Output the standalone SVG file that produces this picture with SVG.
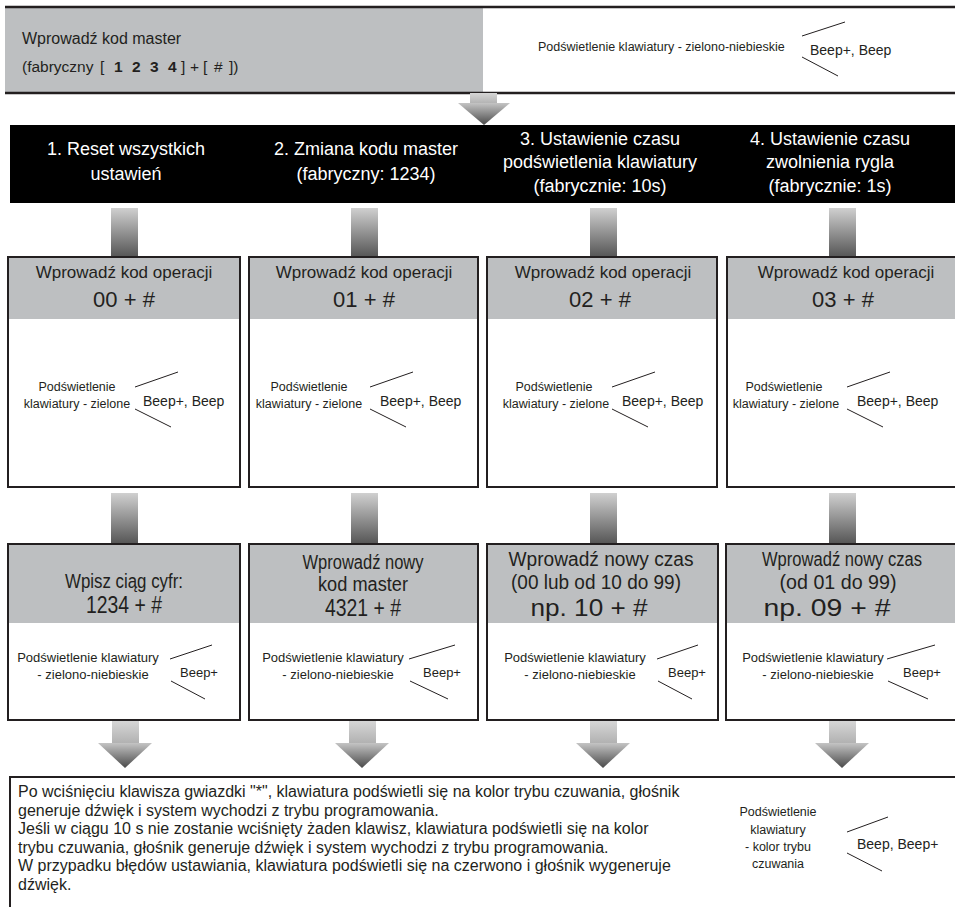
<svg xmlns="http://www.w3.org/2000/svg" width="955" height="907" viewBox="0 0 955 907">
<defs>
<linearGradient id="shaftG" x1="0" y1="0" x2="0" y2="1">
<stop offset="0" stop-color="#d0d0d0"/><stop offset="1" stop-color="#555555"/>
</linearGradient>
<linearGradient id="headG" x1="0" y1="0" x2="0" y2="1">
<stop offset="0" stop-color="#c4c4c4"/><stop offset="1" stop-color="#4a4a4a"/>
</linearGradient>
<linearGradient id="stubG" x1="0" y1="0" x2="0" y2="1">
<stop offset="0" stop-color="#d6d6d6"/><stop offset="1" stop-color="#b0b0b0"/>
</linearGradient>
<style>
text{font-family:"Liberation Sans",Arial,Helvetica,sans-serif;fill:#231f20}
.w{fill:#ffffff;font-size:18px}
.hd{font-size:17px}
.code{font-size:22px}
.lbl{font-size:12.5px}
.lbl3{font-size:13px}
.beep{font-size:14px}
.h3{font-size:20px}
.h3b{font-size:24px}
.para{font-size:16px}
.box{fill:#ffffff;stroke:#231f20;stroke-width:2}
.gray{fill:#bdbfc1}
.ln{stroke:#231f20;stroke-width:1;fill:none}
.bar{stroke:#231f20;stroke-width:2.5}
</style>
</defs>

<g id="top-box">
<rect x="5" y="7" width="478" height="86" class="gray"/>
<line x1="5" y1="7" x2="955" y2="7" class="bar"/>
<line x1="5" y1="93" x2="955" y2="93" class="bar"/>
<text x="22" y="44" style="font-size:16px">Wprowadź kod master</text>
<text y="72" style="font-size:15.5px"><tspan x="22">(fabryczny</tspan><tspan x="100">[</tspan><tspan x="114" font-weight="bold">1</tspan><tspan x="132" font-weight="bold">2</tspan><tspan x="150" font-weight="bold">3</tspan><tspan x="168" font-weight="bold">4</tspan><tspan x="181">]</tspan><tspan x="190">+</tspan><tspan x="203">[</tspan><tspan x="214">#</tspan><tspan x="229">])</tspan></text>
<text x="538" y="51" style="font-size:12.5px">Podświetlenie klawiatury - zielono-niebieskie</text>
<line x1="802" y1="36" x2="845" y2="22" class="ln"/>
<line x1="802" y1="57" x2="838" y2="76" class="ln"/>
<text x="810" y="55" class="beep">Beep+, Beep</text>
</g>

<g id="menu-band">
<rect x="10" y="125" width="945" height="78" fill="#000000"/>
<text class="w" text-anchor="middle"><tspan x="126" y="155">1. Reset wszystkich</tspan><tspan x="126" y="180">ustawień</tspan></text>
<text class="w" text-anchor="middle"><tspan x="366" y="155">2. Zmiana kodu master</tspan><tspan x="366" y="180">(fabryczny: 1234)</tspan></text>
<text class="w" text-anchor="middle"><tspan x="600" y="145">3. Ustawienie czasu</tspan><tspan x="600" y="168">podświetlenia klawiatury</tspan><tspan x="600" y="192">(fabrycznie: 10s)</tspan></text>
<text class="w" text-anchor="middle"><tspan x="830" y="145">4. Ustawienie czasu</tspan><tspan x="830" y="168">zwolnienia rygla</tspan><tspan x="830" y="192">(fabrycznie: 1s)</tspan></text>
</g>

<g id="connectors">
<rect x="470" y="93" width="27" height="11" fill="url(#stubG)"/>
<polygon points="458,103 510,103 484,125" fill="url(#headG)"/>
<rect x="111" y="208" width="27" height="49" fill="url(#shaftG)"/>
<rect x="351" y="208" width="27" height="49" fill="url(#shaftG)"/>
<rect x="590" y="208" width="27" height="49" fill="url(#shaftG)"/>
<rect x="829" y="208" width="27" height="49" fill="url(#shaftG)"/>
<rect x="111" y="493" width="27" height="51" fill="url(#shaftG)"/>
<rect x="351" y="493" width="27" height="51" fill="url(#shaftG)"/>
<rect x="590" y="493" width="27" height="51" fill="url(#shaftG)"/>
<rect x="829" y="493" width="27" height="51" fill="url(#shaftG)"/>
<rect x="112" y="721" width="27" height="23" fill="url(#stubG)"/>
<polygon points="98,743 152,743 125,768" fill="url(#headG)"/>
<rect x="349" y="721" width="27" height="23" fill="url(#stubG)"/>
<polygon points="335,743 389,743 362,768" fill="url(#headG)"/>
<rect x="590" y="721" width="27" height="23" fill="url(#stubG)"/>
<polygon points="576,743 630,743 603,768" fill="url(#headG)"/>
<rect x="829" y="721" width="27" height="23" fill="url(#stubG)"/>
<polygon points="815,743 869,743 842,768" fill="url(#headG)"/>
</g>

<g id="op-00">
<rect x="8" y="257" width="232" height="230" class="box"/>
<rect x="9" y="258" width="230" height="61" class="gray"/>
<text x="124" y="278" class="hd" text-anchor="middle">Wprowadź kod operacji</text>
<text x="124" y="307" class="code" text-anchor="middle">00 + #</text>
<text class="lbl" text-anchor="middle"><tspan x="77" y="391">Podświetlenie</tspan><tspan x="77" y="408">klawiatury - zielone</tspan></text>
<line x1="135" y1="387" x2="178" y2="372" class="ln"/>
<line x1="135" y1="409" x2="171" y2="427" class="ln"/>
<text x="143" y="406" class="beep">Beep+, Beep</text>
</g>

<g id="op-01">
<rect x="249" y="257" width="229" height="230" class="box"/>
<rect x="250" y="258" width="227" height="61" class="gray"/>
<text x="364" y="278" class="hd" text-anchor="middle">Wprowadź kod operacji</text>
<text x="364" y="307" class="code" text-anchor="middle">01 + #</text>
<text class="lbl" text-anchor="middle"><tspan x="309" y="391">Podświetlenie</tspan><tspan x="309" y="408">klawiatury - zielone</tspan></text>
<line x1="370" y1="387" x2="413" y2="372" class="ln"/>
<line x1="370" y1="409" x2="406" y2="427" class="ln"/>
<text x="380" y="406" class="beep">Beep+, Beep</text>
</g>

<g id="op-02">
<rect x="487" y="257" width="230" height="230" class="box"/>
<rect x="488" y="258" width="228" height="61" class="gray"/>
<text x="603" y="278" class="hd" text-anchor="middle">Wprowadź kod operacji</text>
<text x="600" y="307" class="code" text-anchor="middle">02 + #</text>
<text class="lbl" text-anchor="middle"><tspan x="554" y="391">Podświetlenie</tspan><tspan x="556" y="408">klawiatury - zielone</tspan></text>
<line x1="612" y1="387" x2="655" y2="372" class="ln"/>
<line x1="612" y1="409" x2="648" y2="427" class="ln"/>
<text x="622" y="406" class="beep">Beep+, Beep</text>
</g>

<g id="op-03">
<rect x="727" y="257" width="232" height="230" class="box"/>
<rect x="728" y="258" width="230" height="61" class="gray"/>
<text x="846" y="278" class="hd" text-anchor="middle">Wprowadź kod operacji</text>
<text x="843" y="307" class="code" text-anchor="middle">03 + #</text>
<text class="lbl" text-anchor="middle"><tspan x="784" y="391">Podświetlenie</tspan><tspan x="786" y="408">klawiatury - zielone</tspan></text>
<line x1="847" y1="387" x2="890" y2="372" class="ln"/>
<line x1="847" y1="409" x2="883" y2="427" class="ln"/>
<text x="857" y="406" class="beep">Beep+, Beep</text>
</g>

<g id="step-reset">
<rect x="8" y="544" width="232" height="176" class="box"/>
<rect x="9" y="545" width="230" height="78" class="gray"/>
<text x="124" y="588" class="h3" text-anchor="middle" textLength="118" lengthAdjust="spacingAndGlyphs">Wpisz ciąg cyfr:</text>
<text x="124" y="613" class="h3b" text-anchor="middle" textLength="76" lengthAdjust="spacingAndGlyphs">1234 + #</text>
<text class="lbl3" text-anchor="middle"><tspan x="88" y="662">Podświetlenie klawiatury</tspan><tspan x="93" y="679">- zielono-niebieskie</tspan></text>
<line x1="170" y1="659" x2="212" y2="645" class="ln"/>
<line x1="171" y1="681" x2="205" y2="699" class="ln"/>
<text x="180" y="677" class="lbl3">Beep+</text>
</g>

<g id="step-master">
<rect x="249" y="544" width="229" height="176" class="box"/>
<rect x="250" y="545" width="227" height="78" class="gray"/>
<text x="363" y="569" class="h3" text-anchor="middle" textLength="121" lengthAdjust="spacingAndGlyphs">Wprowadź nowy</text>
<text x="363" y="591" class="h3" text-anchor="middle" textLength="90" lengthAdjust="spacingAndGlyphs">kod master</text>
<text x="363" y="616" class="h3b" text-anchor="middle" textLength="76" lengthAdjust="spacingAndGlyphs">4321 + #</text>
<text class="lbl3" text-anchor="middle"><tspan x="333" y="662">Podświetlenie klawiatury</tspan><tspan x="338" y="679">- zielono-niebieskie</tspan></text>
<line x1="409" y1="659" x2="455" y2="645" class="ln"/>
<line x1="410" y1="681" x2="448" y2="699" class="ln"/>
<text x="423" y="677" class="lbl3">Beep+</text>
</g>

<g id="step-backlight">
<rect x="487" y="544" width="231" height="176" class="box"/>
<rect x="488" y="545" width="229" height="78" class="gray"/>
<text x="601" y="566" class="h3" text-anchor="middle" textLength="185" lengthAdjust="spacingAndGlyphs">Wprowadź nowy czas</text>
<text x="596" y="589" class="h3" text-anchor="middle" textLength="170" lengthAdjust="spacingAndGlyphs">(00 lub od 10 do 99)</text>
<text x="589" y="616" class="h3b" text-anchor="middle" textLength="117" lengthAdjust="spacingAndGlyphs">np. 10 + #</text>
<text class="lbl3" text-anchor="middle"><tspan x="575" y="662">Podświetlenie klawiatury</tspan><tspan x="580" y="679">- zielono-niebieskie</tspan></text>
<line x1="657" y1="659" x2="698" y2="645" class="ln"/>
<line x1="658" y1="681" x2="692" y2="699" class="ln"/>
<text x="668" y="677" class="lbl3">Beep+</text>
</g>

<g id="step-lock">
<rect x="726" y="544" width="233" height="176" class="box"/>
<rect x="727" y="545" width="231" height="78" class="gray"/>
<text x="842" y="566" class="h3" text-anchor="middle" textLength="160" lengthAdjust="spacingAndGlyphs">Wprowadź nowy czas</text>
<text x="838" y="589" class="h3" text-anchor="middle" textLength="117" lengthAdjust="spacingAndGlyphs">(od 01 do 99)</text>
<text x="827" y="616" class="h3b" text-anchor="middle" textLength="127" lengthAdjust="spacingAndGlyphs">np. 09 + #</text>
<text class="lbl3" text-anchor="middle"><tspan x="813" y="662">Podświetlenie klawiatury</tspan><tspan x="818" y="679">- zielono-niebieskie</tspan></text>
<line x1="887" y1="659" x2="935" y2="645" class="ln"/>
<line x1="888" y1="681" x2="928" y2="699" class="ln"/>
<text x="903" y="677" class="lbl3">Beep+</text>
</g>

<g id="exit-info">
<rect x="10" y="777" width="950" height="140" class="box"/>
<text class="para"><tspan x="18" y="797">Po wciśnięciu klawisza gwiazdki "*", klawiatura podświetli się na kolor trybu czuwania, głośnik</tspan><tspan x="18" y="815.5">generuje dźwięk i system wychodzi z trybu programowania.</tspan><tspan x="18" y="834">Jeśli w ciągu 10 s nie zostanie wciśnięty żaden klawisz, klawiatura podświetli się na kolor</tspan><tspan x="18" y="852.5">trybu czuwania, głośnik generuje dźwięk i system wychodzi z trybu programowania.</tspan><tspan x="18" y="871">W przypadku błędów ustawiania, klawiatura podświetli się na czerwono i głośnik wygeneruje</tspan><tspan x="18" y="889.5">dźwięk.</tspan></text>
<text class="lbl" text-anchor="middle"><tspan x="778" y="816">Podświetlenie</tspan><tspan x="778" y="834">klawiatury</tspan><tspan x="778" y="851">- kolor trybu</tspan><tspan x="778" y="868">czuwania</tspan></text>
<line x1="847" y1="832" x2="888" y2="817" class="ln"/>
<line x1="847" y1="853" x2="882" y2="871" class="ln"/>
<text x="857" y="849" class="beep">Beep, Beep+</text>
</g>
</svg>
